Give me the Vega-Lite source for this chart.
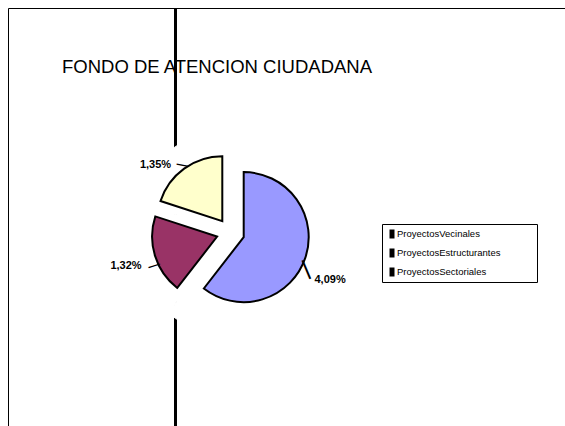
{
  "$schema": "https://vega.github.io/schema/vega-lite/v6.json",
  "width": 560,
  "height": 420,
  "autosize": {"type": "none"},
  "padding": {"left": 8, "top": 8, "right": 0, "bottom": 0},
  "background": "white",
  "config": {"view": {"stroke": "black", "strokeWidth": 1}, "font": "Liberation Sans"},
  "title": {
    "text": "FONDO DE ATENCION CIUDADANA",
    "anchor": "start",
    "frame": "group",
    "orient": "top",
    "font": "Liberation Sans",
    "fontSize": 18.5,
    "fontWeight": "normal",
    "color": "black",
    "baseline": "alphabetic",
    "offset": 0,
    "dx": 54,
    "dy": 83
  },
  "data": {
    "values": [
      {"categoria": "ProyectosVecinales", "valor": 4.09, "etiqueta": "4,09%", "orden": 1},
      {"categoria": "ProyectosEstructurantes", "valor": 1.32, "etiqueta": "1,32%", "orden": 2},
      {"categoria": "ProyectosSectoriales", "valor": 1.35, "etiqueta": "1,35%", "orden": 3}
    ]
  },
  "layer": [
    {
      "mark": {"type": "rule", "opacity": 0},
      "encoding": {
        "y": {
          "datum": 0,
          "type": "quantitative",
          "scale": {"domain": [0, 1]},
          "axis": {"orient": "left", "offset": -167, "domainColor": "black", "domainWidth": 3, "ticks": false, "labels": false, "grid": false, "title": null, "zindex": 0}
        }
      }
    },
    {
      "encoding": {
        "theta": {"field": "valor", "type": "quantitative", "stack": true},
        "order": {"field": "orden", "type": "quantitative"}
      },
      "layer": [
        {
          "mark": {"type": "arc", "radius": 102, "fill": "white", "stroke": "white", "strokeWidth": 1, "xOffset": -57.5, "yOffset": 14.5}
        },
        {
          "mark": {"type": "arc", "radius": 65, "stroke": "black", "strokeWidth": 2, "xOffset": -44.3, "yOffset": 19.1},
          "encoding": {
            "color": {
              "field": "categoria",
              "type": "nominal",
              "scale": {"domain": ["ProyectosVecinales", "ProyectosEstructurantes", "ProyectosSectoriales"], "range": ["#9999FF", "#993366", "#FFFFCC"]},
              "legend": null
            },
            "opacity": {"condition": {"test": "datum.categoria === 'ProyectosVecinales'", "value": 1}, "value": 0}
          }
        },
        {
          "mark": {"type": "arc", "radius": 65, "stroke": "black", "strokeWidth": 2, "xOffset": -70.9, "yOffset": 18.6},
          "encoding": {
            "color": {"field": "categoria", "type": "nominal", "legend": null},
            "opacity": {"condition": {"test": "datum.categoria === 'ProyectosEstructurantes'", "value": 1}, "value": 0}
          }
        },
        {
          "mark": {"type": "arc", "radius": 65, "stroke": "black", "strokeWidth": 2, "xOffset": -65.7, "yOffset": 3.2},
          "encoding": {
            "color": {"field": "categoria", "type": "nominal", "legend": null},
            "opacity": {"condition": {"test": "datum.categoria === 'ProyectosSectoriales'", "value": 1}, "value": 0}
          }
        },
        {
          "mark": {"type": "point", "filled": true, "color": "black", "opacity": 0, "size": 1},
          "encoding": {
            "shape": {
              "field": "categoria",
              "type": "nominal",
              "sort": ["ProyectosVecinales", "ProyectosEstructurantes", "ProyectosSectoriales"],
              "scale": {
                "range": ["M-0.5,-0.9H0.5V0.9H-0.5Z", "M-0.5,-0.9H0.5V0.9H-0.5Z", "M-0.5,-0.9H0.5V0.9H-0.5Z"]
              },
              "legend": {
                "orient": "none",
                "legendX": 374,
                "legendY": 216,
                "title": null,
                "labelFont": "Liberation Sans",
                "labelFontSize": 9.5,
                "labelColor": "black",
                "symbolSize": 100,
                "symbolStrokeWidth": 0,
                "symbolOpacity": 1,
                "symbolFillColor": "black",
                "strokeColor": "black",
                "padding": 5,
                "rowPadding": 9,
                "labelOffset": 0,
                "labelExpr": "datum.label + '\u2003\u2003\u2002\u2800'",
                "encode": {
                  "legend": {"strokeWidth": {"value": 2}}
                }
              }
            }
          }
        },
        {
          "mark": {"type": "text", "radius": 95, "font": "Liberation Sans", "fontSize": 11, "fontWeight": "bold", "align": "center", "baseline": "middle", "color": "black", "xOffset": -47.8, "yOffset": 31.1},
          "encoding": {
            "text": {"field": "etiqueta"},
            "opacity": {"condition": {"test": "datum.categoria === 'ProyectosVecinales'", "value": 1}, "value": 0}
          }
        },
        {
          "mark": {"type": "text", "radius": 95, "font": "Liberation Sans", "fontSize": 11, "fontWeight": "bold", "align": "center", "baseline": "middle", "color": "black", "xOffset": -71.2, "yOffset": 20.2},
          "encoding": {
            "text": {"field": "etiqueta"},
            "opacity": {"condition": {"test": "datum.categoria === 'ProyectosEstructurantes'", "value": 1}, "value": 0}
          }
        },
        {
          "mark": {"type": "text", "radius": 95, "font": "Liberation Sans", "fontSize": 11, "fontWeight": "bold", "align": "center", "baseline": "middle", "color": "black", "xOffset": -76.7, "yOffset": 23.9},
          "encoding": {
            "text": {"field": "etiqueta"},
            "opacity": {"condition": {"test": "datum.categoria === 'ProyectosSectoriales'", "value": 1}, "value": 0}
          }
        },
        {
          "mark": {"type": "text", "radius": 75, "text": "—", "font": "Liberation Sans", "fontSize": 20, "fontWeight": "bold", "align": "center", "baseline": "middle", "color": "black", "angle": 67, "xOffset": -52, "yOffset": 27},
          "encoding": {
            "opacity": {"condition": {"test": "datum.categoria === 'ProyectosVecinales'", "value": 1}, "value": 0}
          }
        },
        {
          "mark": {"type": "text", "radius": 75, "text": "—", "font": "Liberation Sans", "fontSize": 12, "fontWeight": "bold", "align": "center", "baseline": "middle", "color": "black", "angle": -18, "xOffset": -62.3, "yOffset": 25.1},
          "encoding": {
            "opacity": {"condition": {"test": "datum.categoria === 'ProyectosEstructurantes'", "value": 1}, "value": 0}
          }
        },
        {
          "mark": {"type": "text", "radius": 75, "text": "—", "font": "Liberation Sans", "fontSize": 12, "fontWeight": "bold", "align": "center", "baseline": "middle", "color": "black", "angle": 11, "xOffset": -61.4, "yOffset": 7.3},
          "encoding": {
            "opacity": {"condition": {"test": "datum.categoria === 'ProyectosSectoriales'", "value": 1}, "value": 0}
          }
        }
      ]
    }
  ]
}
